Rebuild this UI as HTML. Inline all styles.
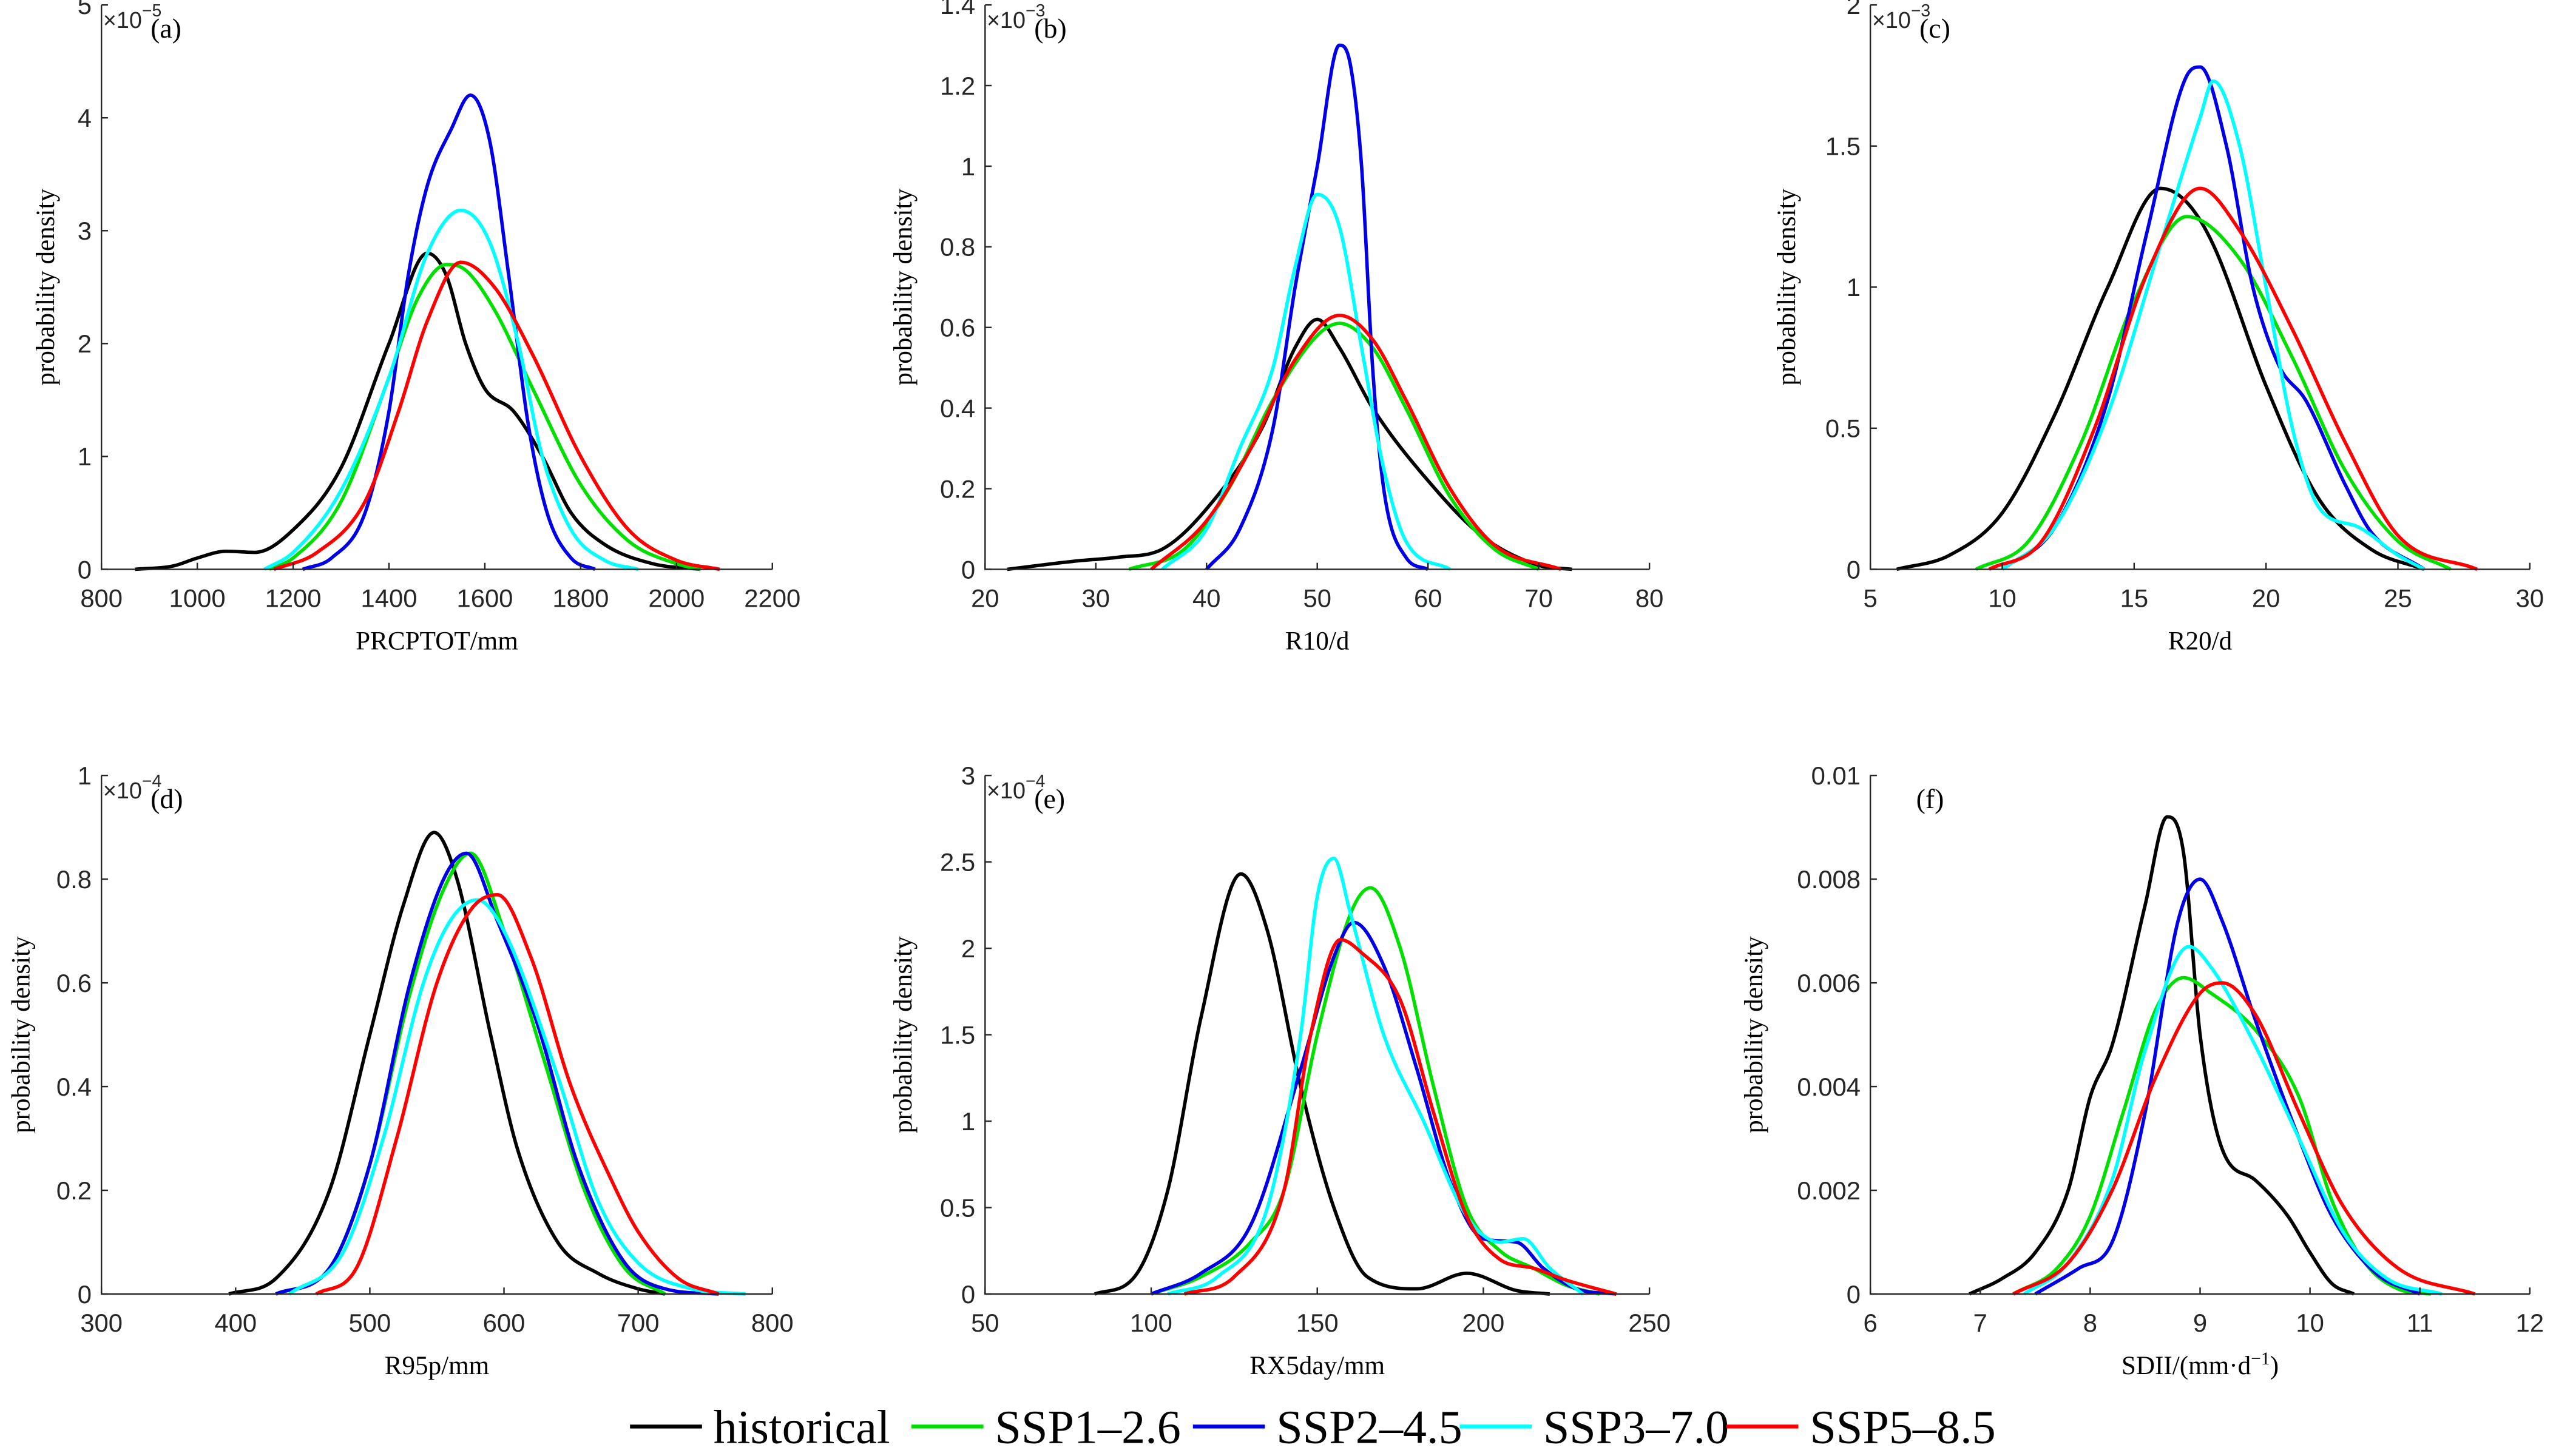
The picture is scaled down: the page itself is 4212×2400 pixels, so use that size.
<!DOCTYPE html>
<html><head><meta charset="utf-8"><style>
html,body{margin:0;padding:0;background:#fff}
svg{display:block}
</style></head><body>
<svg id="fig" xmlns="http://www.w3.org/2000/svg" width="4212" height="2400" viewBox="0 0 1562 890"></svg>
<script>
// ---- data ----
const seriesNames = ["historical","SSP1–2.6","SSP2–4.5","SSP3–7.0","SSP5–8.5"];
const seriesColors = ["#000000","#00e000","#0000e6","#00ffff","#ff0000"];

// panel a: PRCPTOT (y ×1e-5)
const aHistX=[870,950,1000,1060,1120,1200,1300,1400,1480,1520,1560,1600,1660,1720,1780,1850,1950,2050];
const aHistY=[0,0.03,0.1,0.16,0.15,0.35,0.9,2.0,2.8,2.6,2.0,1.6,1.4,1.0,0.5,0.22,0.05,0];
const aS1X=[1150,1200,1300,1400,1460,1520,1560,1620,1700,1800,1900,2000,2050];
const aS1Y=[0,0.1,0.6,1.7,2.4,2.7,2.65,2.3,1.6,0.75,0.25,0.05,0];
const aS2X=[1220,1280,1350,1400,1440,1480,1530,1570,1610,1650,1690,1730,1780,1830];
const aS2Y=[0,0.1,0.5,1.4,2.6,3.4,3.9,4.2,3.8,2.6,1.3,0.5,0.1,0];
const aS3X=[1140,1200,1300,1400,1480,1550,1610,1670,1720,1780,1850,1920];
const aS3Y=[0,0.15,0.7,1.7,2.8,3.18,2.9,2.0,1.0,0.35,0.08,0];
const aS5X=[1160,1250,1350,1420,1480,1550,1620,1700,1800,1900,2000,2090];
const aS5Y=[0,0.15,0.6,1.4,2.2,2.72,2.5,1.9,1.0,0.35,0.08,0];

// panel b: R10 (y ×1e-3)
const bHistX=[22,28,32,36,40,45,48,50,52,55,60,65,70,73];
const bHistY=[0,0.02,0.03,0.05,0.15,0.35,0.55,0.62,0.55,0.4,0.22,0.08,0.01,0];
const bS1X=[33,38,42,46,50,52,55,58,62,66,70];
const bS1Y=[0,0.05,0.2,0.42,0.58,0.61,0.55,0.4,0.18,0.05,0];
const bS2X=[40,43,46,48,50,52,53,54,55,56,58,60];
const bS2Y=[0,0.1,0.35,0.7,1.0,1.3,1.25,1.0,0.5,0.2,0.03,0];
const bS3X=[36,40,43,46,48,50,52,54,56,58,62];
const bS3Y=[0,0.1,0.3,0.5,0.75,0.93,0.85,0.55,0.25,0.07,0];
const bS5X=[35,40,44,48,52,55,58,62,66,72];
const bS5Y=[0,0.12,0.3,0.52,0.63,0.57,0.42,0.2,0.06,0];

// panel c: R20 (y ×1e-3)
const cHistX=[6,8,10,12,14,16,17,18,20,22,24,26];
const cHistY=[0,0.05,0.2,0.55,1.0,1.35,1.3,1.15,0.65,0.25,0.07,0];
const cS1X=[9,11,13,15,17,19,21,23,25,27];
const cS1Y=[0,0.1,0.45,0.95,1.25,1.1,0.75,0.35,0.1,0];
const cS2X=[10,12,14,15.5,17,17.5,18.5,19.5,20.5,21.5,23,24,26];
const cS2Y=[0,0.15,0.6,1.2,1.75,1.78,1.5,1.0,0.72,0.6,0.3,0.13,0];
const cS3X=[10,12,14,16,17.5,18,19,20,21,22,23.5,25,26];
const cS3Y=[0,0.15,0.55,1.15,1.6,1.73,1.5,1.0,0.5,0.22,0.15,0.05,0];
const cS5X=[9.5,11.5,13.5,15.5,17.5,19,21,23,25,28];
const cS5Y=[0,0.1,0.5,1.05,1.35,1.2,0.85,0.45,0.12,0];

// panel d: R95p (y ×1e-4)
const dHistX=[395,430,470,500,525,548,565,590,610,640,670,700,720];
const dHistY=[0,0.03,0.2,0.5,0.75,0.89,0.8,0.5,0.28,0.1,0.04,0.01,0];
const dS1X=[430,470,500,530,555,575,600,630,660,690,720];
const dS1Y=[0,0.05,0.25,0.58,0.78,0.85,0.7,0.45,0.2,0.05,0];
const dS2X=[430,470,500,530,555,572,595,625,655,690,720,760];
const dS2Y=[0,0.05,0.25,0.6,0.8,0.85,0.72,0.52,0.25,0.06,0.01,0];
const dS3X=[440,480,510,540,560,580,600,640,670,700,740,780];
const dS3Y=[0,0.08,0.3,0.6,0.72,0.76,0.7,0.42,0.18,0.06,0.01,0];
const dS5X=[460,490,520,550,575,595,620,650,680,700,730,760];
const dS5Y=[0,0.05,0.3,0.6,0.74,0.77,0.65,0.4,0.22,0.12,0.03,0];

// panel e: RX5day (y ×1e-4)
const eHistX=[83,95,105,115,127,135,145,155,165,180,195,210,220];
const eHistY=[0,0.1,0.6,1.6,2.43,2.1,1.2,0.5,0.1,0.03,0.12,0.02,0];
const eS1X=[100,115,130,140,150,160,166,175,185,195,205,215,225,235];
const eS1Y=[0,0.1,0.3,0.6,1.5,2.2,2.35,2.0,1.2,0.5,0.25,0.15,0.05,0];
const eS2X=[100,115,130,145,155,161,170,180,190,200,210,218,228,240];
const eS2Y=[0,0.12,0.4,1.3,1.95,2.15,1.9,1.3,0.65,0.32,0.3,0.15,0.03,0];
const eS3X=[105,120,135,145,150,155,160,170,182,195,205,212,220,230];
const eS3Y=[0,0.1,0.5,1.5,2.3,2.52,2.2,1.5,1.0,0.45,0.3,0.32,0.15,0];
const eS5X=[110,125,140,148,157,163,175,185,195,205,215,225,240];
const eS5Y=[0,0.1,0.6,1.5,2.05,1.98,1.7,1.05,0.45,0.2,0.15,0.08,0];

// panel f: SDII
const fHistX=[6.9,7.2,7.5,7.8,8,8.2,8.5,8.7,8.85,9,9.2,9.5,9.8,10,10.2,10.4];
const fHistY=[0,0.0003,0.0008,0.002,0.0038,0.0048,0.0075,0.0092,0.0085,0.005,0.0028,0.0022,0.0015,0.0008,0.0002,0];
const fS1X=[7.3,7.7,8,8.3,8.6,8.85,9.1,9.5,9.9,10.2,10.5,10.8,11.1];
const fS1Y=[0,0.0005,0.0015,0.0035,0.0055,0.0061,0.0058,0.0051,0.0038,0.0018,0.0006,0.0001,0];
const fS2X=[7.5,7.9,8.2,8.5,8.8,9,9.2,9.5,9.9,10.2,10.6,11];
const fS2Y=[0,0.0005,0.001,0.0035,0.0072,0.008,0.0072,0.0053,0.003,0.0015,0.0004,0];
const fS3X=[7.4,7.8,8.2,8.5,8.9,9.1,9.5,9.9,10.3,10.7,11.2];
const fS3Y=[0,0.0006,0.0022,0.0047,0.0067,0.0063,0.0048,0.003,0.0012,0.0003,0];
const fS5X=[7.3,7.8,8.2,8.6,9,9.2,9.5,9.9,10.3,10.8,11.5];
const fS5Y=[0,0.0006,0.002,0.0042,0.0058,0.006,0.0054,0.0035,0.0017,0.0005,0];

// ticks
const aXTicks=[800,1000,1200,1400,1600,1800,2000,2200];
const aYTicks=[0,1,2,3,4,5];
const bXTicks=[20,30,40,50,60,70,80];
const bYTicks=[0,0.2,0.4,0.6,0.8,1,1.2,1.4];
const cXTicks=[5,10,15,20,25,30];
const cYTicks=[0,0.5,1,1.5,2];
const dXTicks=[300,400,500,600,700,800];
const dYTicks=[0,0.2,0.4,0.6,0.8,1];
const eXTicks=[50,100,150,200,250];
const eYTicks=[0,0.5,1,1.5,2,2.5,3];
const fXTicks=[6,7,8,9,10,11,12];
const fYTicks=[0,0.002,0.004,0.006,0.008,0.01];

const NS="http://www.w3.org/2000/svg";
const svg=document.getElementById('fig');
function mk(tag,attrs,parent){const e=document.createElementNS(NS,tag);for(const k in attrs)e.setAttribute(k,attrs[k]);(parent||svg).appendChild(e);return e;}

function monoPath(px,py){
  const n=px.length; if(n<2) return '';
  const d=[],m=new Array(n);
  for(let i=0;i<n-1;i++) d.push((py[i+1]-py[i])/(px[i+1]-px[i]));
  m[0]=d[0]; m[n-1]=d[n-2];
  for(let i=1;i<n-1;i++){ if(d[i-1]*d[i]<=0) m[i]=0; else { m[i]=(d[i-1]+d[i])/2; } }
  for(let i=0;i<n-1;i++){ if(d[i]===0){m[i]=0;m[i+1]=0;continue;} const a=m[i]/d[i],b=m[i+1]/d[i],s=a*a+b*b; if(s>9){const t=3/Math.sqrt(s);m[i]=t*a*d[i];m[i+1]=t*b*d[i];} }
  let p='M'+px[0].toFixed(2)+','+py[0].toFixed(2);
  for(let i=0;i<n-1;i++){const h=(px[i+1]-px[i])/3;
    p+=' C'+(px[i]+h).toFixed(2)+','+(py[i]+m[i]*h).toFixed(2)+' '+(px[i+1]-h).toFixed(2)+','+(py[i+1]-m[i+1]*h).toFixed(2)+' '+px[i+1].toFixed(2)+','+py[i+1].toFixed(2);}
  return p;
}

const panels=[
 {id:'a',L:62,R:472,T:3,B:348,yo:29,x0:800,x1:2200,y0:0,y1:5,xt:aXTicks,yt:aYTicks,exp:'−5',xl:'PRCPTOT/mm',s:[[aHistX,aHistY],[aS1X,aS1Y],[aS2X,aS2Y],[aS3X,aS3Y],[aS5X,aS5Y]]},
 {id:'b',L:602,R:1008,T:3,B:348,yo:45,x0:20,x1:80,y0:0,y1:1.4,xt:bXTicks,yt:bYTicks,exp:'−3',xl:'R10/d',s:[[bHistX,bHistY],[bS1X,bS1Y],[bS2X,bS2Y],[bS3X,bS3Y],[bS5X,bS5Y]]},
 {id:'c',L:1143,R:1546,T:3,B:348,yo:46,x0:5,x1:30,y0:0,y1:2,xt:cXTicks,yt:cYTicks,exp:'−3',xl:'R20/d',s:[[cHistX,cHistY],[cS1X,cS1Y],[cS2X,cS2Y],[cS3X,cS3Y],[cS5X,cS5Y]]},
 {id:'d',L:62,R:472,T:474,B:791,yo:44,x0:300,x1:800,y0:0,y1:1,xt:dXTicks,yt:dYTicks,exp:'−4',xl:'R95p/mm',s:[[dHistX,dHistY],[dS1X,dS1Y],[dS2X,dS2Y],[dS3X,dS3Y],[dS5X,dS5Y]]},
 {id:'e',L:602,R:1008,T:474,B:791,yo:45,x0:50,x1:250,y0:0,y1:3,xt:eXTicks,yt:eYTicks,exp:'−4',xl:'RX5day/mm',s:[[eHistX,eHistY],[eS1X,eS1Y],[eS2X,eS2Y],[eS3X,eS3Y],[eS5X,eS5Y]]},
 {id:'f',L:1143,R:1546,T:474,B:791,yo:66,x0:6,x1:12,y0:0,y1:0.01,xt:fXTicks,yt:fYTicks,exp:null,xl:'SDII/(mm·d',s:[[fHistX,fHistY],[fS1X,fS1Y],[fS2X,fS2Y],[fS3X,fS3Y],[fS5X,fS5Y]]}
];

panels.forEach(p=>{
  const g=mk('g',{});
  
  
  const sx=v=>p.L+(v-p.x0)/(p.x1-p.x0)*(p.R-p.L);
  const sy=v=>p.B-(v-p.y0)/(p.y1-p.y0)*(p.B-p.T);
  p.s.forEach((s,i)=>{
    const path=mk('path',{d:monoPath(s[0].map(sx),s[1].map(sy)),fill:'none',stroke:seriesColors[i],'stroke-width':2.1,'stroke-linejoin':'round'},g);
    
    
  });
  const ax=mk('path',{d:`M${p.L},${p.T} L${p.L},${p.B} L${p.R},${p.B}`,fill:'none',stroke:'#262626','stroke-width':0.9},g);
  
  
  p.xt.forEach(v=>{
    const x=sx(v);
    mk('line',{x1:x,x2:x,y1:p.B,y2:p.B-4,stroke:'#262626','stroke-width':0.9},g);
    const t=mk('text',{x:x,y:p.B+23,'text-anchor':'middle','font-family':'Liberation Sans, sans-serif','font-size':15.5,fill:'#262626'},g);
    t.textContent=String(v);
    
    
  });
  p.yt.forEach(v=>{
    const y=sy(v);
    mk('line',{x1:p.L,x2:p.L+4,y1:y,y2:y,stroke:'#262626','stroke-width':0.9},g);
    const t=mk('text',{x:p.L-6,y:y+5.5,'text-anchor':'end','font-family':'Liberation Sans, sans-serif','font-size':15.5,fill:'#262626'},g);
    t.textContent=String(v);
    
    
  });
  const yl=mk('text',{x:0,y:0,transform:`translate(${p.L-p.yo},${(p.T+p.B)/2}) rotate(-90)`,'text-anchor':'middle','font-family':'Liberation Serif, serif','font-size':16,fill:'#000'},g);
  yl.textContent='probability density';
  
  
  const xl=mk('text',{x:(p.L+p.R)/2,y:p.B+49,'text-anchor':'middle','font-family':'Liberation Serif, serif','font-size':16,fill:'#000'},g);
  xl.textContent=p.xl;
  if(p.id==='f'){const sp=mk('tspan',{dy:-6,'font-size':11},xl);sp.textContent='−1';const sp2=mk('tspan',{dy:6},xl);sp2.textContent=')';}
  
  
  if(p.exp){
    const ex=mk('text',{x:p.L+1,y:p.T+14,'font-family':'Liberation Sans, sans-serif','font-size':14,fill:'#262626'},g);
    ex.textContent='×10';
    const sp=mk('tspan',{dy:-7,'font-size':10.5},ex);sp.textContent=p.exp;
    
    
  }
  const lab=mk('text',{x:p.id==='f'?p.L+28:p.L+30,y:p.T+20,'font-family':'Liberation Serif, serif','font-size':17,fill:'#000'},g);
  lab.textContent='('+p.id+')';
  
  
});

const legX=[385,557,729,892,1055];
const lg=mk('g',{});


seriesNames.forEach((n,i)=>{
  const ln=mk('line',{x1:legX[i],x2:legX[i]+44,y1:872,y2:872,stroke:seriesColors[i],'stroke-width':2.4},lg);
  
  
  const t=mk('text',{x:legX[i]+51,y:882,'font-family':'Liberation Serif, serif','font-size':29,fill:'#000'},lg);
  t.textContent=n;
  
  
});
</script>
</body></html>
